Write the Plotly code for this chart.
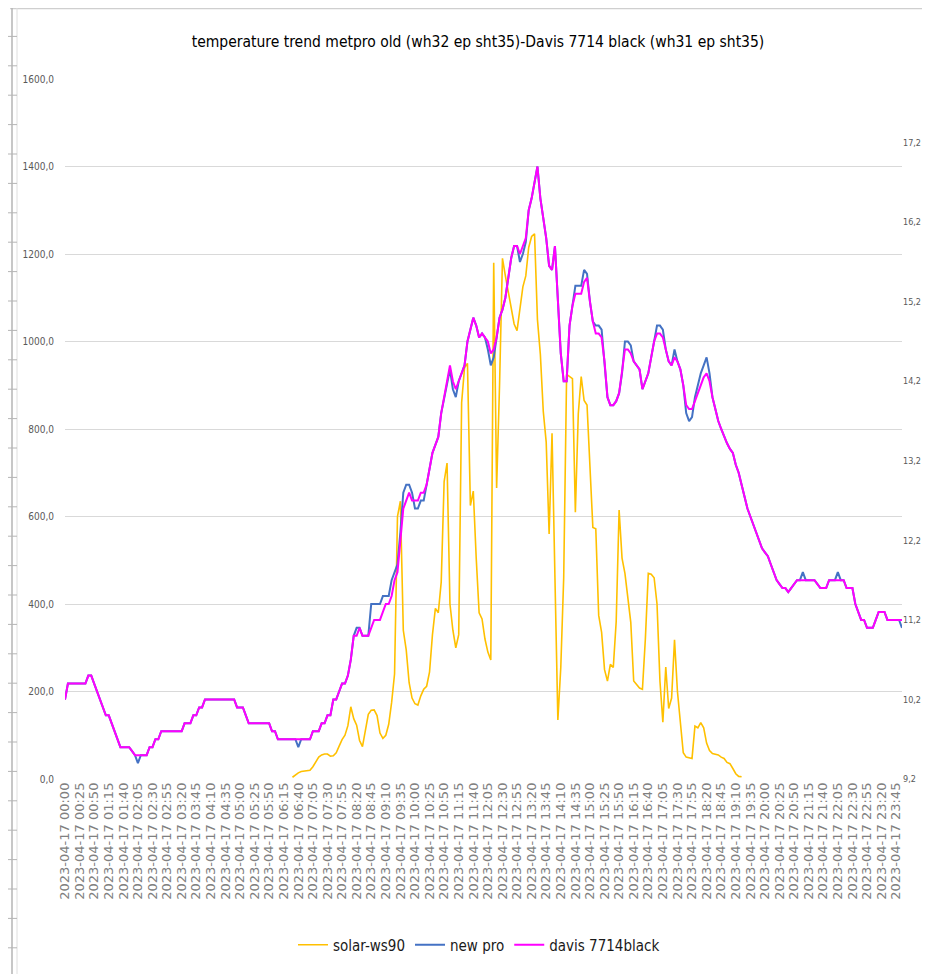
import plotly.graph_objects as go

# Category labels: every 5 minutes on 2023-04-17
times = [f"2023-04-17 {h:02d}:{m:02d}" for h in range(24) for m in range(0, 60, 5)]
tick_labels = times[::5]

# solar-ws90 (W/m², left axis); None where no value is plotted
solar_ws90 = [None] * 78 + [
    4, 10, 14, 17, 18, 18, 20, 28, 40, 50, 55, 57,
    57, 52, 53, 60, 75, 90, 100, 122, 165, 138,
    123, 88, 74, 110, 148, 157, 158, 145, 105, 93,
    100, 125, 175, 240, 600, 635, 340, 295, 220, 185,
    172, 169, 190, 205, 212, 245, 330, 390, 380, 450,
    680, 722, 400, 340, 300, 330, 860, 940, 950, 625,
    658, 505, 380, 366, 320, 290, 272, 1180, 665, 900,
    1190, 1150, 1110, 1075, 1040, 1025, 1070, 1125, 1150, 1215,
    1240, 1246, 1050, 970, 840, 770, 560, 790, 460, 135,
    255, 460, 925, 920, 915, 610, 835, 920, 865, 855,
    715, 575, 572, 374, 335, 250, 224, 262, 255, 360,
    615, 505, 470, 410, 358, 224, 215, 208, 205, 320,
    470, 468, 460, 400, 224, 130, 256, 161, 185, 318,
    200, 121, 60, 50, 48, 47, 121, 117, 129, 117,
    82, 65, 58, 56, 55, 50, 47, 38, 35, 24,
    12, 6, 5,
] + [None] * 55

# davis 7714black temperature (°C, right axis)
davis_7714black = [
    10.2, 10.4, 10.4, 10.4, 10.4, 10.4, 10.4, 10.4, 10.5, 10.5,
    10.4, 10.3, 10.2, 10.1, 10.0, 10.0, 9.9, 9.8, 9.7, 9.6,
    9.6, 9.6, 9.6, 9.55, 9.5, 9.5, 9.5, 9.5, 9.5, 9.6,
    9.6, 9.7, 9.7, 9.8, 9.8, 9.8, 9.8, 9.8, 9.8, 9.8,
    9.8, 9.9, 9.9, 9.9, 10.0, 10.0, 10.1, 10.1, 10.2, 10.2,
    10.2, 10.2, 10.2, 10.2, 10.2, 10.2, 10.2, 10.2, 10.2, 10.1,
    10.1, 10.1, 10.0, 9.9, 9.9, 9.9, 9.9, 9.9, 9.9, 9.9,
    9.9, 9.8, 9.8, 9.7, 9.7, 9.7, 9.7, 9.7, 9.7, 9.7,
    9.7, 9.7, 9.7, 9.7, 9.7, 9.8, 9.8, 9.8, 9.9, 9.9,
    10.0, 10.0, 10.2, 10.2, 10.3, 10.4, 10.4, 10.5, 10.7, 11.0,
    11.0, 11.1, 11.0, 11.0, 11.0, 11.1, 11.2, 11.2, 11.2, 11.3,
    11.4, 11.4, 11.5, 11.7, 11.8, 12.2, 12.6, 12.7, 12.8, 12.7,
    12.7, 12.7, 12.8, 12.8, 12.9, 13.1, 13.3, 13.4, 13.5, 13.8,
    14.0, 14.2, 14.4, 14.2, 14.1, 14.2, 14.3, 14.4, 14.7, 14.85,
    15.0, 14.9, 14.75, 14.8, 14.75, 14.7, 14.55, 14.6, 14.75, 15.0,
    15.1, 15.25, 15.5, 15.75, 15.9, 15.9, 15.8, 15.9, 16.0, 16.35,
    16.5, 16.7, 16.9, 16.5, 16.25, 16.0, 15.65, 15.6, 15.9, 15.15,
    14.55, 14.2, 14.2, 14.9, 15.15, 15.3, 15.3, 15.3, 15.45, 15.5,
    15.2, 14.95, 14.8, 14.8, 14.75, 14.45, 14.0, 13.9, 13.9, 13.95,
    14.05, 14.3, 14.6, 14.6, 14.55, 14.45, 14.4, 14.35, 14.1, 14.2,
    14.3, 14.5, 14.7, 14.8, 14.8, 14.75, 14.6, 14.45, 14.4, 14.5,
    14.45, 14.35, 14.15, 13.9, 13.85, 13.85, 13.95, 14.05, 14.15, 14.25,
    14.3, 14.2, 14.0, 13.85, 13.7, 13.6, 13.5, 13.42, 13.35, 13.3,
    13.15, 13.05, 12.9, 12.75, 12.6, 12.5, 12.4, 12.3, 12.2, 12.1,
    12.05, 12.0, 11.9, 11.8, 11.7, 11.65, 11.6, 11.6, 11.55, 11.6,
    11.65, 11.7, 11.7, 11.7, 11.7, 11.7, 11.7, 11.7, 11.65, 11.6,
    11.6, 11.6, 11.7, 11.7, 11.7, 11.7, 11.7, 11.7, 11.6, 11.6,
    11.6, 11.4, 11.3, 11.2, 11.2, 11.1, 11.1, 11.1, 11.2, 11.3,
    11.3, 11.3, 11.2, 11.2, 11.2, 11.2, 11.2, 11.2,
]

# new pro temperature (°C, right axis)
new_pro = [
    10.2, 10.4, 10.4, 10.4, 10.4, 10.4, 10.4, 10.4, 10.5, 10.5,
    10.4, 10.3, 10.2, 10.1, 10.0, 10.0, 9.9, 9.8, 9.7, 9.6,
    9.6, 9.6, 9.6, 9.55, 9.5, 9.4, 9.5, 9.5, 9.5, 9.6,
    9.6, 9.7, 9.7, 9.8, 9.8, 9.8, 9.8, 9.8, 9.8, 9.8,
    9.8, 9.9, 9.9, 9.9, 10.0, 10.0, 10.1, 10.1, 10.2, 10.2,
    10.2, 10.2, 10.2, 10.2, 10.2, 10.2, 10.2, 10.2, 10.2, 10.1,
    10.1, 10.1, 10.0, 9.9, 9.9, 9.9, 9.9, 9.9, 9.9, 9.9,
    9.9, 9.8, 9.8, 9.7, 9.7, 9.7, 9.7, 9.7, 9.7, 9.7,
    9.6, 9.7, 9.7, 9.7, 9.7, 9.8, 9.8, 9.8, 9.9, 9.9,
    10.0, 10.0, 10.2, 10.2, 10.3, 10.4, 10.4, 10.5, 10.7, 11.0,
    11.1, 11.1, 11.0, 11.0, 11.0, 11.4, 11.4, 11.4, 11.4, 11.5,
    11.5, 11.5, 11.7, 11.8, 11.9, 12.3, 12.8, 12.9, 12.9, 12.8,
    12.6, 12.6, 12.7, 12.7, 12.9, 13.1, 13.3, 13.4, 13.5, 13.8,
    14.0, 14.2, 14.35, 14.1, 14.0, 14.2, 14.3, 14.4, 14.7, 14.85,
    15.0, 14.9, 14.75, 14.8, 14.75, 14.6, 14.4, 14.5, 14.75, 15.0,
    15.1, 15.25, 15.5, 15.75, 15.9, 15.9, 15.7, 15.8, 15.95, 16.35,
    16.5, 16.7, 16.9, 16.5, 16.25, 16.0, 15.65, 15.6, 15.9, 15.15,
    14.55, 14.2, 14.2, 14.9, 15.15, 15.4, 15.4, 15.4, 15.6, 15.55,
    15.2, 14.95, 14.9, 14.9, 14.85, 14.45, 14.0, 13.9, 13.9, 13.95,
    14.05, 14.3, 14.7, 14.7, 14.65, 14.45, 14.4, 14.35, 14.1, 14.2,
    14.3, 14.5, 14.7, 14.9, 14.9, 14.85, 14.6, 14.45, 14.4, 14.6,
    14.45, 14.35, 14.15, 13.8, 13.7, 13.75, 14.0, 14.15, 14.3, 14.4,
    14.5, 14.3, 14.0, 13.85, 13.7, 13.6, 13.5, 13.42, 13.35, 13.3,
    13.15, 13.05, 12.9, 12.75, 12.6, 12.5, 12.4, 12.3, 12.2, 12.1,
    12.05, 12.0, 11.9, 11.8, 11.7, 11.65, 11.6, 11.6, 11.55, 11.6,
    11.65, 11.7, 11.7, 11.8, 11.7, 11.7, 11.7, 11.7, 11.65, 11.6,
    11.6, 11.6, 11.7, 11.7, 11.7, 11.8, 11.7, 11.7, 11.6, 11.6,
    11.6, 11.4, 11.3, 11.2, 11.2, 11.1, 11.1, 11.1, 11.2, 11.3,
    11.3, 11.3, 11.2, 11.2, 11.2, 11.2, 11.2, 11.1,
]

NARROW = "Liberation Sans Narrow, DejaVu Sans Condensed, Arial Narrow, sans-serif"

fig = go.Figure()
fig.add_trace(go.Scatter(x=times, y=solar_ws90, name="solar-ws90", mode="lines",
                         line=dict(color="#FFC000", width=1.6), yaxis="y",
                         connectgaps=False))
fig.add_trace(go.Scatter(x=times, y=new_pro, name="new pro", mode="lines",
                         line=dict(color="#4472C4", width=2), yaxis="y2"))
fig.add_trace(go.Scatter(x=times, y=davis_7714black, name="davis 7714black", mode="lines",
                         line=dict(color="#FF00FF", width=2), yaxis="y2"))

# Page has an 8px body margin; work in figure pixels = screen pixels - 8
OFF = 8
FW, FH = 930 - OFF, 974 - OFF
L, R, T, B = 65 - OFF, 902 - OFF, 79 - OFF, 779 - OFF
W, H = R - L, B - T
def px(sx):
    return (sx - OFF - L) / W
def py(sy):
    return (B - (sy - OFF)) / H

shapes = [
    dict(type="line", xref="paper", yref="paper", x0=px(10), x1=px(930), y0=py(8.5), y1=py(8.5),
         line=dict(color="#cfcfcf", width=1.5)),
    dict(type="line", xref="paper", yref="paper", x0=px(12), x1=px(12), y0=py(8), y1=py(974),
         line=dict(color="#b5b5b5", width=1.5)),
    dict(type="line", xref="paper", yref="paper", x0=px(17), x1=px(17), y0=py(8), y1=py(974),
         line=dict(color="#dedede", width=1)),
]
yy = 36.4
while yy < 974:
    shapes.append(dict(type="line", xref="paper", yref="paper", x0=px(8), x1=px(17),
                       y0=py(yy), y1=py(yy), line=dict(color="#b5b5b5", width=1)))
    yy += 29.4

fig.update_layout(
    width=FW, height=FH,
    margin=dict(l=L, r=FW - R, t=T, b=FH - B, autoexpand=False),
    paper_bgcolor="white", plot_bgcolor="white",
    separators=",.",
    title=dict(text="temperature trend metpro old (wh32 ep sht35)-Davis 7714 black (wh31 ep sht35)",
               x=px(478), xref="paper", xanchor="center", y=1 - (42 - OFF) / FH, yref="container",
               yanchor="middle", font=dict(family=NARROW, size=15.5, color="#000000")),
    xaxis=dict(type="category", range=[0, 287], tickmode="array", tickvals=tick_labels,
               ticktext=tick_labels, tickangle=-90, showgrid=False, zeroline=False,
               showline=False, ticks="", automargin=False,
               tickfont=dict(family="DejaVu Sans", size=13, color="#808080")),
    yaxis=dict(range=[0, 1600], dtick=200, tick0=0, tickformat=".1f", showgrid=True,
               gridcolor="#d9d9d9", gridwidth=1, zeroline=False, showline=False,
               ticks="outside", ticklen=8, tickcolor="rgba(0,0,0,0)", automargin=False,
               tickfont=dict(family=NARROW, size=10, color="#595959")),
    yaxis2=dict(range=[9.2, 18.0], tick0=9.2, dtick=1, tickformat=".1f", overlaying="y",
                side="right", showgrid=False, zeroline=False, showline=False,
                ticks="", automargin=False,
                tickfont=dict(family=NARROW, size=9, color="#595959")),
    legend=dict(orientation="h", x=px(479), xanchor="center", y=py(945),
                yanchor="middle", font=dict(family=NARROW, size=15, color="#1a1a1a"),
                bgcolor="rgba(0,0,0,0)"),
    shapes=shapes,
)

fig.write_html("out.html")
